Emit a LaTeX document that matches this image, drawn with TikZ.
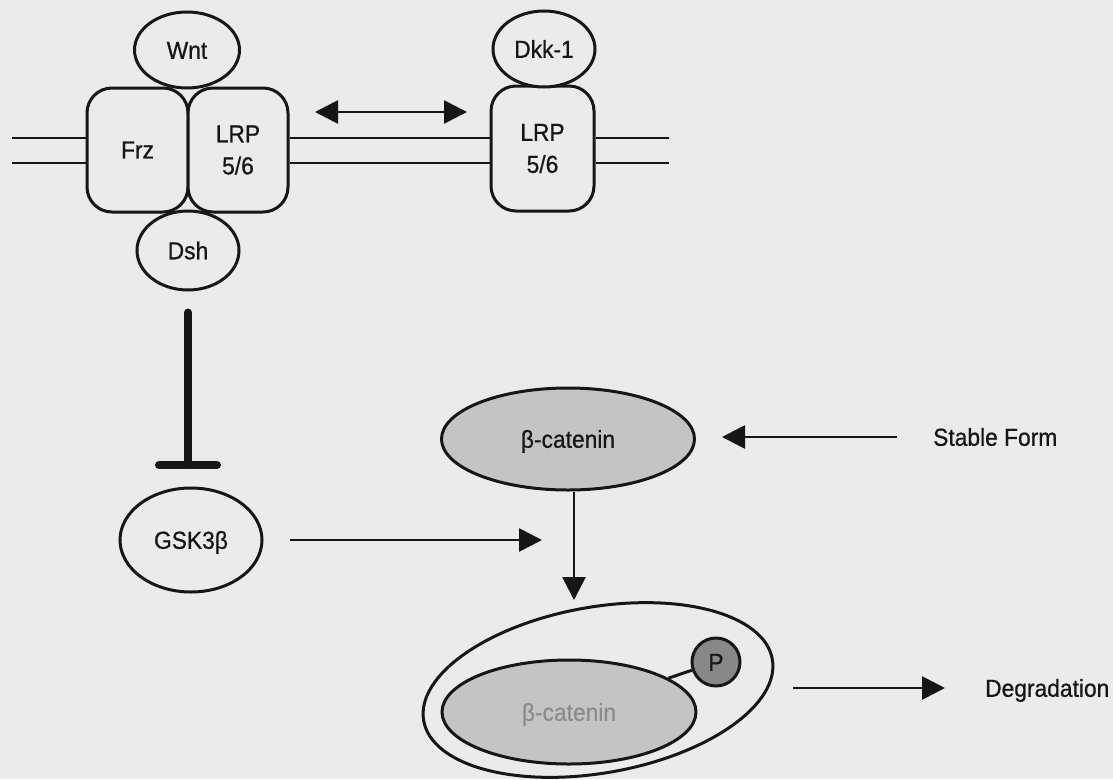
\documentclass[tikz,border=0pt]{standalone}
\usepackage{fontspec}
\setmainfont{Liberation Sans}
\newfontfamily\diagfont{Liberation Sans}[FakeBold=0.8, FakeStretch=0.93]
\usetikzlibrary{shapes.geometric,arrows.meta,calc}
\definecolor{bg}{HTML}{EBEBEB}
\definecolor{ink}{HTML}{161616}
\definecolor{bfill}{HTML}{C4C4C4}
\definecolor{pfill}{HTML}{888888}
\definecolor{faint}{HTML}{8C8C8C}
\begin{document}
\begin{tikzpicture}[x=1pt,y=-1pt,
  tri/.tip={Triangle[length=23pt,width=23pt]},
  lbl/.style={font=\diagfont\fontsize{24.5}{32}\selectfont, text=ink},
  capbox/.style={text height=17.5pt, text depth=0pt},
  box/.style={draw=ink, line width=3pt, fill=bg, rounded corners=25pt, inner sep=0pt, lbl, align=center},
  oval/.style={ellipse, draw=ink, line width=3pt, fill=bg, inner sep=0pt, lbl, capbox},
  memb/.style={draw=ink, line width=2.8pt},
  arr/.style={draw=ink, line width=2.8pt, -tri},
  dblarr/.style={draw=ink, line width=2.8pt, tri-tri},
  inh/.style={draw=ink, line width=8pt, line cap=round},
]
\fill[bg] (0,0) rectangle (1113,779);
\useasboundingbox (0,0) rectangle (1113,779);

% membrane coordinates
\coordinate (mLa) at (12,138);
\coordinate (mLb) at (12,163);
\coordinate (mRa) at (669,138);
\coordinate (mRb) at (669,163);

% receptor boxes
\node[box, minimum width=101pt, minimum height=124pt] (frz) at (137.5,150) {Frz};
\node[box, minimum width=100pt, minimum height=124pt] (lrpa) at (238,150) {LRP\\5/6};
\node[box, minimum width=103pt, minimum height=125pt] (lrpb) at (542.5,148.5) {LRP\\5/6};

% membrane lines
\draw[memb] (mLa) -- (mLa -| frz.west);
\draw[memb] (mLb) -- (mLb -| frz.west);
\draw[memb] (lrpa.east |- mLa) -- (lrpb.west |- mLa);
\draw[memb] (lrpa.east |- mLb) -- (lrpb.west |- mLb);
\draw[memb] (lrpb.east |- mRa) -- (mRa);
\draw[memb] (lrpb.east |- mRb) -- (mRb);

% ligands and cytoplasmic proteins
\node[oval, minimum width=105pt, minimum height=76pt] (wnt) at (187,50) {Wnt};
\node[oval, minimum width=102pt, minimum height=79pt] (dsh) at (188,250.5) {Dsh};
\node[oval, minimum width=102pt, minimum height=76pt] (dkk) at (544,49) {Dkk-1};
\node[oval, minimum width=142pt, minimum height=104pt] (gsk) at (191,540) {GSK3β};

% beta-catenin
\node[oval, fill=bfill, minimum width=253pt, minimum height=102pt] (bcat) at (568,439) {β-catenin};
\node[oval, minimum width=354pt, minimum height=166pt, rotate=10] (cplx) at (598,690) {};
\node[oval, fill=bfill, text=faint, minimum width=254pt, minimum height=104pt] (bcatp) at (569,712) {β-catenin};
\node[circle, draw=ink, line width=3pt, fill=pfill, minimum size=48pt, inner sep=0pt, lbl, capbox] (p) at (716,662) {P};
\draw[ink, line width=3pt] (p) -- (bcatp);

% text labels
\node[lbl, capbox, inner sep=0pt, anchor=west] (stable) at (933,437) {Stable Form};
\node[lbl, capbox, inner sep=0pt, anchor=west] (degr) at (985,688) {Degradation};

% double arrow between LRPs
\coordinate (da) at (315,112);
\coordinate (db) at (467,112);
\draw[dblarr] (da) -- (db);

% inhibition of GSK3b
\coordinate (bar) at (188,465);
\draw[inh, shorten <=21pt] (dsh.south) -- (bar);
\draw[inh] ($(bar)+(-29pt,0pt)$) -- ($(bar)+(29pt,0pt)$);

% GSK3b arrow
\coordinate (gend) at (542,540);
\draw[arr, shorten <=26pt] (gsk.east) -- (gend);

% vertical arrow
\coordinate (vend) at (574,600);
\draw[arr] (bcat.south -| vend) -- (vend);

% stable form arrow
\draw[arr, shorten <=36pt, shorten >=26pt] (stable.west) -- (stable.west -| bcat.east);

% degradation arrow
\coordinate (dstart) at (793,688);
\draw[arr, shorten >=40pt] (dstart) -- (degr.west);
\end{tikzpicture}
\end{document}
